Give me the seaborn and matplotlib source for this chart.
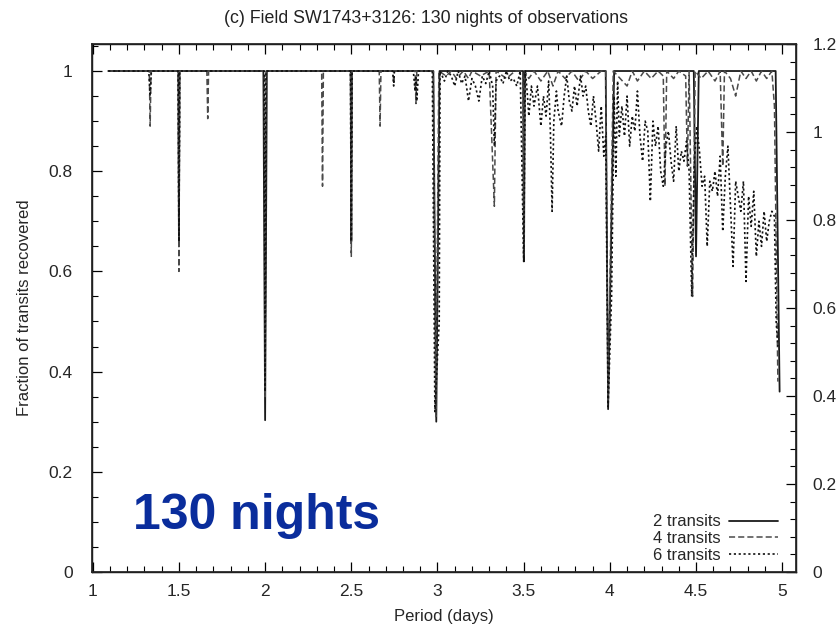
import matplotlib
matplotlib.use("Agg")
import matplotlib.pyplot as plt
from matplotlib.ticker import MultipleLocator
import seaborn as sns
import pandas as pd

# Recovered fraction of transits vs. orbital period, three detection thresholds
period_2tr = [1.09, 1.497, 1.500, 1.503, 1.990, 2.000, 2.010, 2.497, 2.500, 2.503,
              2.976, 2.993, 3.012, 3.497, 3.502, 3.507, 3.976, 3.990, 4.025,
              4.487, 4.500, 4.516, 4.962, 4.985]
frac_2tr = [1.0, 1.0, 0.65, 1.0, 1.0, 0.303, 1.0, 1.0, 0.66, 1.0,
            1.0, 0.30, 1.0, 1.0, 0.62, 1.0, 1.0, 0.325, 1.0,
            1.0, 0.63, 1.0, 1.0, 0.36]

period_4tr = [1.09, 1.328, 1.333, 1.338, 1.495, 1.500, 1.505, 1.662, 1.667, 1.672,
              1.995, 2.000, 2.005, 2.328, 2.333, 2.338, 2.495, 2.500, 2.505,
              2.662, 2.667, 2.672, 2.742, 2.746, 2.750, 2.870, 2.875, 2.880,
              2.976, 2.990, 3.008, 3.05, 3.08, 3.11, 3.15, 3.18, 3.20, 3.25,
              3.30, 3.33, 3.34, 3.40, 3.45, 3.495, 3.500, 3.505, 3.53, 3.56,
              3.60, 3.64, 3.67, 3.70, 3.74, 3.78, 3.82, 3.86, 3.90, 3.95,
              3.976, 3.990, 4.020, 4.06, 4.10, 4.13, 4.16, 4.20, 4.24, 4.28,
              4.31, 4.32, 4.33, 4.37, 4.40, 4.44, 4.45, 4.46, 4.48, 4.495,
              4.53, 4.57, 4.61, 4.64, 4.655, 4.665, 4.70, 4.73, 4.76, 4.79,
              4.82, 4.85, 4.88, 4.91, 4.94, 4.955, 4.975]
frac_4tr = [1.0, 1.0, 0.89, 1.0, 1.0, 0.60, 1.0, 1.0, 0.905, 1.0,
            1.0, 0.35, 1.0, 1.0, 0.77, 1.0, 1.0, 0.63, 1.0,
            1.0, 0.89, 1.0, 1.0, 0.975, 1.0, 1.0, 0.935, 1.0,
            1.0, 0.31, 1.0, 0.99, 1.0, 0.985, 1.0, 0.985, 1.0, 0.99,
            1.0, 0.73, 1.0, 0.985, 1.0, 1.0, 0.63, 1.0, 0.985, 1.0,
            0.98, 1.0, 0.97, 1.0, 0.985, 1.0, 0.98, 1.0, 0.985, 1.0,
            1.0, 0.34, 1.0, 0.985, 0.97, 1.0, 0.98, 1.0, 0.985, 1.0,
            0.99, 0.77, 1.0, 0.985, 1.0, 0.99, 0.81, 1.0, 0.55, 1.0,
            0.985, 1.0, 0.98, 1.0, 0.81, 1.0, 0.985, 0.95, 1.0, 0.985,
            1.0, 0.98, 1.0, 0.985, 1.0, 0.93, 0.38]

period_6tr = [1.09, 1.325, 1.333, 1.340, 1.495, 1.500, 1.505, 1.995, 2.000, 2.005,
              2.495, 2.500, 2.505, 2.740, 2.746, 2.750, 2.860, 2.870, 2.875, 2.880,
              2.890, 2.970, 2.985, 3.010, 3.015,
              3.04, 3.06, 3.08, 3.10, 3.12, 3.14, 3.16, 3.18, 3.20, 3.22, 3.24,
              3.26, 3.28, 3.30, 3.32, 3.33, 3.34, 3.36, 3.38, 3.40, 3.42, 3.44,
              3.46, 3.48, 3.50, 3.51,
              3.52, 3.53, 3.545, 3.56, 3.58, 3.60, 3.615, 3.63, 3.645, 3.655,
              3.665, 3.675, 3.69, 3.70, 3.72, 3.735, 3.75, 3.765, 3.78, 3.795,
              3.81, 3.83, 3.845, 3.86, 3.875, 3.89, 3.905, 3.92, 3.935, 3.95,
              3.965, 3.976, 3.99, 4.01, 4.025,
              4.035, 4.045, 4.055, 4.07, 4.085, 4.10, 4.115, 4.13, 4.145, 4.16,
              4.175, 4.19, 4.205, 4.22, 4.235, 4.25, 4.265, 4.28, 4.295, 4.31,
              4.325, 4.34, 4.355, 4.37, 4.385, 4.40, 4.415, 4.43, 4.445, 4.46,
              4.475, 4.49, 4.505,
              4.52, 4.535, 4.55, 4.565, 4.58, 4.595, 4.61, 4.625, 4.64, 4.655,
              4.67, 4.685, 4.70, 4.715, 4.73, 4.745, 4.76, 4.775, 4.79, 4.805,
              4.82, 4.835, 4.85, 4.865, 4.88, 4.895, 4.91, 4.925, 4.94, 4.955,
              4.965, 4.975]
frac_6tr = [1.0, 1.0, 0.95, 1.0, 1.0, 0.66, 1.0, 1.0, 0.36, 1.0,
            1.0, 0.66, 1.0, 1.0, 0.97, 1.0, 1.0, 0.96, 0.99, 0.94,
            1.0, 1.0, 0.32, 0.50, 1.0,
            0.98, 1.0, 0.99, 0.97, 1.0, 0.975, 0.99, 0.94, 0.985, 0.97, 0.94,
            0.99, 0.975, 1.0, 0.97, 0.85, 0.98, 0.99, 0.975, 1.0, 0.98, 0.985,
            0.97, 1.0, 0.62, 1.0,
            0.96, 0.91, 0.97, 0.93, 0.97, 0.89, 0.95, 0.91, 0.98, 0.88,
            0.72, 0.90, 0.96, 0.92, 0.89, 0.95, 0.99, 0.94, 0.92, 0.97,
            0.93, 0.99, 0.95, 0.97, 0.92, 0.89, 0.95, 0.90, 0.84, 0.93,
            0.83, 0.87, 0.33, 0.55, 0.95,
            0.79, 0.98, 0.87, 0.93, 0.87, 0.95, 0.85, 0.91, 0.88, 0.96,
            0.87, 0.82, 0.90, 0.88, 0.74, 0.90, 0.85, 0.89, 0.80, 0.77,
            0.85, 0.88, 0.82, 0.78, 0.89, 0.80, 0.84, 0.82, 0.86, 0.80,
            0.55, 0.82, 0.89,
            0.84, 0.77, 0.79, 0.65, 0.78, 0.76, 0.80, 0.75, 0.83, 0.68,
            0.79, 0.85, 0.73, 0.61, 0.78, 0.75, 0.72, 0.78, 0.58, 0.75,
            0.69, 0.76, 0.63, 0.70, 0.65, 0.72, 0.66, 0.70, 0.72, 0.71,
            0.50, 0.45]

legend_labels = ["2 transits", "4 transits", "6 transits"]
left_ticks = [0, 0.2, 0.4, 0.6, 0.8, 1]
right_ticks = [0, 0.2, 0.4, 0.6, 0.8, 1.0, 1.2]
x_ticks = [1, 1.5, 2, 2.5, 3, 3.5, 4, 4.5, 5]

sns.set_theme(style="ticks")
plt.rcParams["font.family"] = ["Liberation Sans", "DejaVu Sans"]

fig = plt.figure(figsize=(8.37, 6.28), dpi=100)
ax = fig.add_axes([0.110, 0.0892, 0.841, 0.8408])

series = [
    (period_2tr, frac_2tr, "#1a1a1a", "-", 1.3),
    (period_4tr, frac_4tr, "#4a4a4a", (0, (4, 2)), 1.1),
    (period_6tr, frac_6tr, "#111111", (0, (1.3, 1.6)), 1.2),
]
for (px, fy, col, ls, lw), lab in zip(series, legend_labels):
    df = pd.DataFrame({"period": px, "fraction": fy})
    sns.lineplot(data=df, x="period", y="fraction", ax=ax, color=col,
                 linestyle=ls, linewidth=lw, estimator=None, sort=False,
                 label=lab)

ax.set_xlim(0.996, 5.08)
ax.set_ylim(0, 1.054)
ax.set_xticks(x_ticks)
ax.set_xticklabels([f"{t:g}" for t in x_ticks])
ax.set_yticks(left_ticks)
ax.set_yticklabels([f"{t:g}" for t in left_ticks])
ax.xaxis.set_minor_locator(MultipleLocator(0.1))
ax.yaxis.set_minor_locator(MultipleLocator(0.05))
ax.tick_params(axis="x", which="both", direction="in", top=True, bottom=True,
               labelsize=12.5, pad=9)
ax.tick_params(axis="y", which="both", direction="in", left=True, right=False,
               labelsize=12.5, pad=14)
ax.tick_params(which="major", length=7, width=0.9, color="black")
ax.tick_params(which="minor", length=4, width=0.8, color="black")
for sp in ax.spines.values():
    sp.set_visible(True)
    sp.set_linewidth(1.0)
    sp.set_color("black")

ax.set_xlabel("Period (days)", fontsize=12, labelpad=7)
ax.set_ylabel("Fraction of transits recovered", fontsize=12, labelpad=12)

ax2 = ax.twinx()
ax2.set_ylim(0, 1.2)
ax2.set_yticks(right_ticks)
ax2.set_yticklabels([f"{t:g}" for t in right_ticks])
ax2.yaxis.set_minor_locator(MultipleLocator(0.04))
ax2.tick_params(axis="y", which="both", direction="in", labelsize=12.5, pad=12)
ax2.tick_params(which="major", length=7, width=0.9, color="black")
ax2.tick_params(which="minor", length=4, width=0.8, color="black")

leg = ax.legend(loc="lower right", bbox_to_anchor=(0.987, 0.0), frameon=False,
                markerfirst=False, fontsize=12, handlelength=2.9,
                handletextpad=0.5, labelspacing=0.1, borderaxespad=0.15)

fig.text(0.509, 0.971, "(c) Field SW1743+3126: 130 nights of observations",
         ha="center", va="center", fontsize=12.8, color="#222222")
fig.text(0.306, 0.178, "130 nights", ha="center", va="center",
         fontsize=36, fontweight="bold", color="#0a2d9c")

fig.savefig("out.png", dpi=100)
